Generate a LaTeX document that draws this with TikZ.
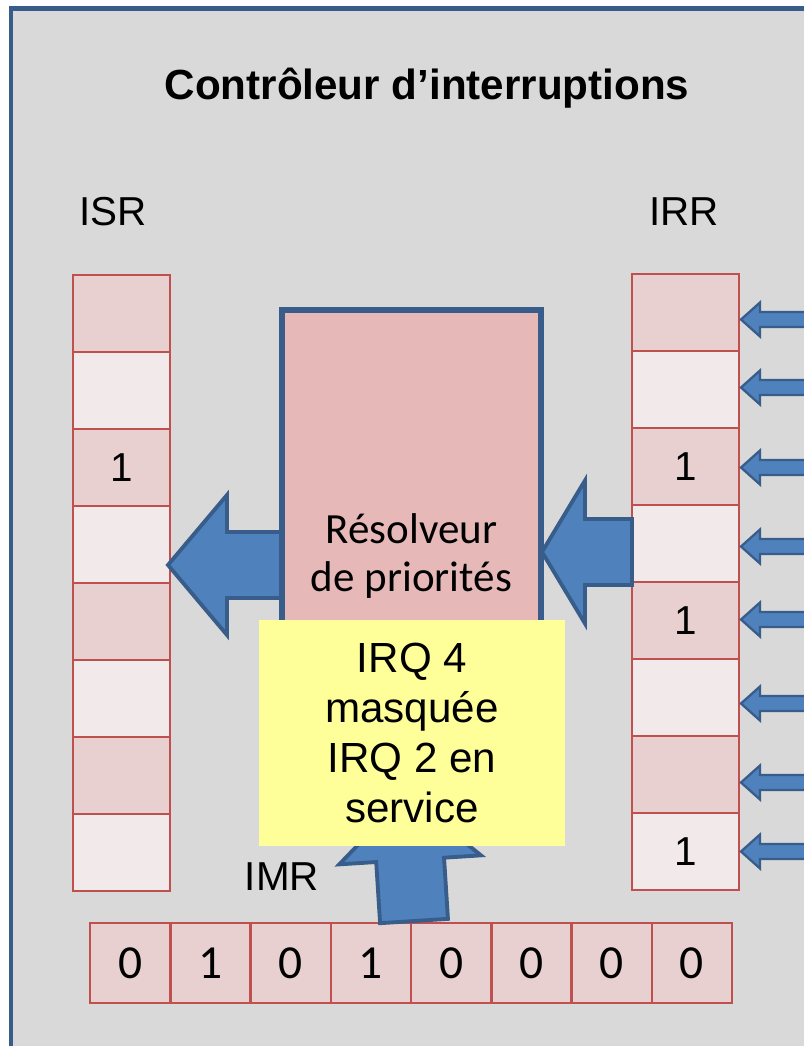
\documentclass[tikz,border=0pt]{standalone}
\usepackage{fontspec}
\setmainfont{Liberation Sans}
\newfontfamily\calibri{Carlito}
\usetikzlibrary{calc,positioning}

\definecolor{framebg}{HTML}{D9D9D9}
\definecolor{frameblue}{HTML}{385D8A}
\definecolor{arrowblue}{HTML}{4F81BD}
\definecolor{cellred}{HTML}{C0504D}
\definecolor{celld}{HTML}{E8D0D0}
\definecolor{celll}{HTML}{F2EAEA}
\definecolor{resfill}{HTML}{E6B9B8}
\definecolor{notefill}{HTML}{FFFF99}

% block arrow: [style] {from} {tip} {shaft half} {head half} {head length}
\newcommand{\blockarrow}[6][]{%
  \path ($(#3)!#6!(#2)$) coordinate (ba-h);
  \draw[barrow,#1] ($(#2)!#4!90:(#3)$) -- ($(ba-h)!#4!90:(#3)$)
    -- ($(ba-h)!#5!90:(#3)$) -- (#3) -- ($(ba-h)!#5!-90:(#3)$)
    -- ($(ba-h)!#4!-90:(#3)$) -- ($(#2)!#4!-90:(#3)$) -- cycle;}

\begin{document}
\begin{tikzpicture}[x=0.02cm, y=-0.02cm,
      txt/.style={font=\fontsize{23}{28}\selectfont, inner sep=0pt},
      cell/.style={draw=cellred, line width=1.4pt, fill=#1, outer sep=0pt,
                   inner sep=0pt, minimum width=1.94cm, minimum height=1.54cm,
                   font=\fontsize{23}{28}\selectfont},
      imrcell/.style={cell=celld, minimum width=1.605cm, minimum height=1.6cm,
                   font=\calibri\fontsize{27}{30}\selectfont},
      barrow/.style={draw=frameblue, fill=arrowblue, line width=2.2pt},
      smallarrow/.style={line width=1.3pt}]
    \clip (0,0) rectangle (804,1046);
    \draw[frameblue, fill=framebg, line width=0.1cm] (11,8) rectangle (830,1080);

    \node[txt, font=\bfseries\fontsize{24}{28}\selectfont, anchor=base] (title)
      at (427,99) {Contrôleur d’interruptions};
    \node[txt, anchor=base] (isrlbl) at (113,225) {ISR};
    \node[txt, anchor=base] (irrlbl) at (684,225) {IRR};
    \node[txt, anchor=base] (imrlbl) at (282,890) {IMR};

    % registers
    \foreach \i/\f/\v in {1/celld/{},2/celll/{},3/celld/1,4/celll/{},
                          5/celld/{},6/celll/{},7/celld/{},8/celll/{}}
      \node[cell=\f] (isr\i) at (121.5,{236.5+77*\i}) {\v};
    \foreach \i/\f/\v in {1/celld/{},2/celll/{},3/celld/1,4/celll/{},
                          5/celld/1,6/celll/{},7/celld/{},8/celll/1}
      \node[cell=\f, minimum width=2.14cm] (irr\i) at (685.5,{235.5+77*\i}) {\v};
    \foreach \i/\v in {1/0,2/1,3/0,4/\raisebox{-0.14cm}{1},5/0,6/0,7/0,8/0}
      \node[imrcell] (imr\i) at ({49.9+80.25*\i},963) {\v};

    % incoming requests
    \foreach \i/\d in {1/7,2/-2,3/1,4/3,5/-1,6/6,7/8,8/0} {
      \coordinate (req\i) at ($(irr\i.east)+(100,\d)$);
      \coordinate (in\i) at ($(irr\i.east)+(2,\d)$);
      \blockarrow[smallarrow]{req\i}{in\i}{0.15cm}{0.34cm}{0.38cm}
    }

    \node[draw=frameblue, fill=resfill, line width=0.08cm, minimum width=5.14cm,
          minimum height=9.8cm, align=center, inner sep=0pt,
          font=\calibri\fontsize{24.5}{27.8}\selectfont] (res) at (411.5,556)
          {Résolveur\\de priorités};

    \coordinate (isrin) at (168,565);
    \coordinate (resin) at (542,552);
    \blockarrow{res.west |- isrin}{isrin}{0.66cm}{1.40cm}{1.18cm}
    \blockarrow{irr4.west |- resin}{resin}{0.66cm}{1.43cm}{0.86cm}
    \draw[frameblue, line width=0.08cm] (res.north west) rectangle (res.south east);

    \coordinate (mask) at ($(imr4.north east)+(3,-2)$);
    \coordinate (masktip) at (406,795);
    \blockarrow{mask}{masktip}{0.68cm}{1.42cm}{1.3cm}

    \node[fill=notefill, minimum width=6.12cm, minimum height=4.54cm, align=center,
          inner sep=0pt, font=\fontsize{24}{28.4}\selectfont] (note) at (412,733)
          {IRQ 4\\masquée\\IRQ 2 en\\service};
  \end{tikzpicture}
\end{document}
